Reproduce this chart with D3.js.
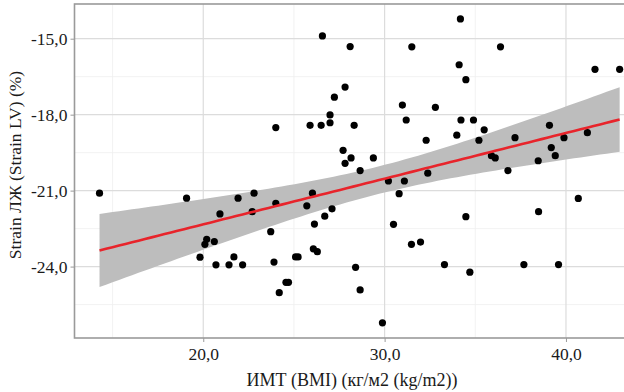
<!DOCTYPE html>
<html>
<head>
<meta charset="utf-8">
<script src="https://cdn.jsdelivr.net/npm/d3@7"></script>
<style>
  body { margin: 0; background: #fff; }
  svg { display: block; font-family: "Liberation Serif", "DejaVu Serif", serif; }
</style>
</head>
<body>
<svg width="624" height="392"></svg>
<script>
// BMI (кг/м2) for each patient
const bmi = [26.57, 28.10, 27.82, 27.23, 26.99, 26.99, 26.50, 25.89, 24.00, 28.32,
  27.71, 28.15, 27.82, 28.65, 14.28, 19.08, 21.92, 22.80, 26.02, 34.18,
  31.50, 36.39, 34.11, 34.48, 41.60, 42.96, 30.98, 32.80, 31.19, 34.21,
  34.90, 39.09, 35.49, 33.98, 37.19, 39.89, 41.18, 32.29, 35.20, 39.19,
  29.38, 35.89, 36.10, 39.41, 38.47, 36.80, 32.38, 30.21, 31.09, 30.80,
  40.68, 24.00, 22.70, 20.92, 25.71, 27.10, 26.70, 26.13, 23.72, 20.19,
  20.09, 20.61, 26.07, 26.29, 19.82, 21.69, 25.09, 25.23, 20.70, 21.42,
  22.17, 23.90, 28.40, 24.56, 24.70, 24.19, 28.65, 38.49, 34.48, 30.49,
  31.48, 31.98, 33.30, 34.70, 37.68, 39.59, 29.88];
// Strain LV (%) for each patient
const strain = [-14.89, -15.31, -16.91, -17.31, -18.01, -18.32, -18.42, -18.42, -18.51, -18.42,
  -19.41, -19.71, -19.92, -20.21, -21.10, -21.30, -21.30, -21.10, -21.10, -14.22,
  -15.32, -15.32, -16.03, -16.62, -16.21, -16.21, -17.62, -17.71, -18.21, -18.21,
  -18.21, -18.42, -18.60, -18.81, -18.91, -18.91, -18.71, -19.01, -19.01, -19.30,
  -19.71, -19.62, -19.71, -19.62, -19.82, -20.21, -20.31, -20.62, -20.62, -21.12,
  -21.31, -21.50, -21.83, -21.92, -21.60, -21.72, -22.01, -22.32, -22.62, -22.92,
  -23.12, -23.01, -23.30, -23.41, -23.63, -23.62, -23.62, -23.62, -23.93, -23.93,
  -23.93, -23.82, -24.03, -24.62, -24.62, -25.03, -24.92, -21.83, -22.03, -22.33,
  -23.12, -23.03, -23.92, -24.22, -23.92, -23.92, -26.22];

const xTicks = [20, 30, 40];
const xMinor = [15, 25, 35];
const yTicks = [-15, -18, -21, -24];
const yMinor = [-16.5, -19.5, -22.5, -25.5];
const fmt = v => d3.format(".1f")(v).replace(".", ",").replace("−", "-");

const svg = d3.select("svg");
const margin = { top: 4, right: 0, bottom: 54, left: 74.5 };
const width = +svg.attr("width") - margin.left - margin.right;
const height = +svg.attr("height") - margin.top - margin.bottom;

const x = d3.scaleLinear().domain([12.9, 43.2]).range([0, width]);
const y = d3.scaleLinear().domain([-26.82, -13.63]).range([height, 0]);

const g = svg.append("g").attr("transform", `translate(${margin.left},${margin.top})`);

// сетка
g.selectAll(".gx-minor").data(xMinor).enter().append("line")
  .attr("x1", d => x(d)).attr("x2", d => x(d)).attr("y1", 0).attr("y2", height)
  .attr("stroke", "#efefef").attr("stroke-width", 0.8);
g.selectAll(".gy-minor").data(yMinor).enter().append("line")
  .attr("y1", d => y(d)).attr("y2", d => y(d)).attr("x1", 0).attr("x2", width)
  .attr("stroke", "#efefef").attr("stroke-width", 0.8);
g.selectAll(".gx").data(xTicks).enter().append("line")
  .attr("x1", d => x(d)).attr("x2", d => x(d)).attr("y1", 0).attr("y2", height)
  .attr("stroke", "#dcdcdc").attr("stroke-width", 1.2);
g.selectAll(".gy").data(yTicks).enter().append("line")
  .attr("y1", d => y(d)).attr("y2", d => y(d)).attr("x1", 0).attr("x2", width)
  .attr("stroke", "#dcdcdc").attr("stroke-width", 1.2);

// линейная регрессия + 95% ДИ
const n = bmi.length;
const mx = d3.mean(bmi), my = d3.mean(strain);
const sxx = d3.sum(bmi, v => (v - mx) ** 2);
const sxy = d3.sum(bmi, (v, i) => (v - mx) * (strain[i] - my));
const slope = sxy / sxx, icpt = my - slope * mx;
const se = Math.sqrt(d3.sum(bmi, (v, i) => (strain[i] - icpt - slope * v) ** 2) / (n - 2));
const tval = 1.988;
const [xlo, xhi] = d3.extent(bmi);
const fit = d3.range(0, 81).map(k => {
  const xv = xlo + (xhi - xlo) * k / 80;
  const yv = icpt + slope * xv;
  const h = tval * se * Math.sqrt(1 / n + (xv - mx) ** 2 / sxx);
  return { x: xv, y: yv, lo: yv - h, hi: yv + h };
});

g.append("path").datum(fit)
  .attr("fill", "#bdbdbd")
  .attr("d", d3.area().x(d => x(d.x)).y0(d => y(d.lo)).y1(d => y(d.hi)));

g.selectAll("circle").data(bmi).enter().append("circle")
  .attr("cx", d => x(d)).attr("cy", (d, i) => y(strain[i]))
  .attr("r", 3.6).attr("fill", "#000");

g.append("path").datum(fit)
  .attr("fill", "none").attr("stroke", "#e8242b").attr("stroke-width", 2.6)
  .attr("d", d3.line().x(d => x(d.x)).y(d => y(d.y)));

// рамка панели
g.append("rect").attr("x", 0).attr("y", 0).attr("width", width + 2).attr("height", height)
  .attr("fill", "none").attr("stroke", "#9a9a9a").attr("stroke-width", 1.6);

// оси
const xAxis = g.append("g").attr("transform", `translate(0,${height})`)
  .call(d3.axisBottom(x).tickValues(xTicks).tickFormat(fmt).tickSize(4).tickPadding(6));
const yAxis = g.append("g")
  .call(d3.axisLeft(y).tickValues(yTicks).tickFormat(fmt).tickSize(4).tickPadding(3));
[xAxis, yAxis].forEach(a => {
  a.select(".domain").remove();
  a.selectAll("line").attr("stroke", "#9a9a9a");
  a.selectAll("text").attr("fill", "#1a1a1a").style("font-size", "17.5px")
    .style("font-family", "'Liberation Serif', serif");
});

svg.append("text")
  .attr("x", 352).attr("y", 386)
  .attr("text-anchor", "middle").attr("fill", "#1a1a1a").style("font-size", "18px")
  .text("ИМТ (BMI) (кг/м2 (kg/m2))");
svg.append("text")
  .attr("transform", `translate(21,${margin.top + height / 2 - 6}) rotate(-90)`)
  .attr("text-anchor", "middle").attr("fill", "#1a1a1a").style("font-size", "17.5px")
  .text("Strain ЛЖ (Strain LV) (%)");
</script>
</body>
</html>
